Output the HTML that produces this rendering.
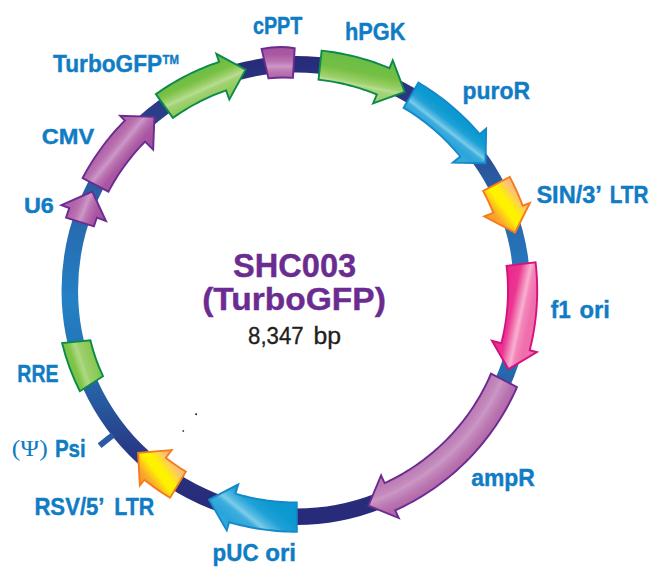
<!DOCTYPE html>
<html><head><meta charset="utf-8"><title>SHC003 (TurboGFP)</title>
<style>
html,body{margin:0;padding:0;background:#fff;}
body{width:659px;height:579px;overflow:hidden;font-family:"Liberation Sans",sans-serif;}
svg{display:block;}
</style></head><body>
<svg width="659" height="579" viewBox="0 0 659 579">
<defs>
<linearGradient id="g_hPGK" gradientUnits="userSpaceOnUse" x1="365.5" y1="62.7" x2="359.7" y2="92.1"><stop offset="0.00" stop-color="#6dbd45"/><stop offset="0.34" stop-color="#74bf44"/><stop offset="0.54" stop-color="#8cc957"/><stop offset="0.70" stop-color="#a0d272"/><stop offset="0.78" stop-color="#b7dd93"/><stop offset="0.85" stop-color="#a5d47a"/><stop offset="1.00" stop-color="#9fd170"/></linearGradient>
<linearGradient id="g_puroR" gradientUnits="userSpaceOnUse" x1="486.3" y1="127.9" x2="461.7" y2="159.4"><stop offset="0.00" stop-color="#0b95cf"/><stop offset="0.30" stop-color="#0c9ad1"/><stop offset="0.46" stop-color="#1fa1d6"/><stop offset="0.58" stop-color="#55bae2"/><stop offset="0.64" stop-color="#7ecbea"/><stop offset="0.71" stop-color="#3badde"/><stop offset="0.85" stop-color="#2aa5d9"/><stop offset="1.00" stop-color="#34aadc"/></linearGradient>
<linearGradient id="g_SIN" gradientUnits="userSpaceOnUse" x1="486.4" y1="223.9" x2="527.4" y2="191.8"><stop offset="0.00" stop-color="#f7941d"/><stop offset="0.25" stop-color="#f9a72e"/><stop offset="0.45" stop-color="#fff200"/><stop offset="0.58" stop-color="#fff200"/><stop offset="0.80" stop-color="#fcc173"/><stop offset="1.00" stop-color="#fab682"/></linearGradient>
<linearGradient id="g_f1" gradientUnits="userSpaceOnUse" x1="501.6" y1="306.4" x2="531.0" y2="312.6"><stop offset="0.00" stop-color="#ea2a8b"/><stop offset="0.34" stop-color="#ec3592"/><stop offset="0.50" stop-color="#f072ae"/><stop offset="0.62" stop-color="#f59fc7"/><stop offset="0.68" stop-color="#f8b0d1"/><stop offset="0.78" stop-color="#f388ba"/><stop offset="1.00" stop-color="#f06eac"/></linearGradient>
<radialGradient id="g_ampR" gradientUnits="userSpaceOnUse" cx="296.0" cy="290.5" r="241.2"><stop offset="0.8789" stop-color="#bb79b2"/><stop offset="0.9177" stop-color="#c48bbe"/><stop offset="0.9298" stop-color="#cb98c5"/><stop offset="0.9419" stop-color="#c48bbe"/><stop offset="0.9697" stop-color="#ba76b0"/><stop offset="1.0000" stop-color="#b266a9"/></radialGradient>
<linearGradient id="g_pUC" gradientUnits="userSpaceOnUse" x1="296.8" y1="500.9" x2="255.3" y2="552.2"><stop offset="0.00" stop-color="#0b95cf"/><stop offset="0.30" stop-color="#0c9ad1"/><stop offset="0.46" stop-color="#1fa1d6"/><stop offset="0.58" stop-color="#55bae2"/><stop offset="0.64" stop-color="#7ecbea"/><stop offset="0.71" stop-color="#3badde"/><stop offset="0.85" stop-color="#2aa5d9"/><stop offset="1.00" stop-color="#34aadc"/></linearGradient>
<linearGradient id="g_RSV" gradientUnits="userSpaceOnUse" x1="136.8" y1="485.6" x2="177.8" y2="453.6"><stop offset="0.00" stop-color="#f7941d"/><stop offset="0.25" stop-color="#f9a72e"/><stop offset="0.45" stop-color="#fff200"/><stop offset="0.58" stop-color="#fff200"/><stop offset="0.80" stop-color="#fcc173"/><stop offset="1.00" stop-color="#fab682"/></linearGradient>
<linearGradient id="g_U6" gradientUnits="userSpaceOnUse" x1="102.3" y1="213.2" x2="74.5" y2="202.1"><stop offset="0.00" stop-color="#a7529e"/><stop offset="0.22" stop-color="#ab58a2"/><stop offset="0.45" stop-color="#ba74b1"/><stop offset="0.56" stop-color="#c68cc0"/><stop offset="0.61" stop-color="#cc99c7"/><stop offset="0.68" stop-color="#c588be"/><stop offset="0.82" stop-color="#b971af"/><stop offset="1.00" stop-color="#b164a8"/></linearGradient>
<linearGradient id="g_CMV" gradientUnits="userSpaceOnUse" x1="134.7" y1="158.4" x2="111.4" y2="139.4"><stop offset="0.00" stop-color="#a7529e"/><stop offset="0.22" stop-color="#ab58a2"/><stop offset="0.45" stop-color="#ba74b1"/><stop offset="0.56" stop-color="#c68cc0"/><stop offset="0.61" stop-color="#cc99c7"/><stop offset="0.68" stop-color="#c588be"/><stop offset="0.82" stop-color="#b971af"/><stop offset="1.00" stop-color="#b164a8"/></linearGradient>
<linearGradient id="g_Turbo" gradientUnits="userSpaceOnUse" x1="197.1" y1="70.2" x2="209.4" y2="97.5"><stop offset="0.00" stop-color="#6dbd45"/><stop offset="0.30" stop-color="#76c044"/><stop offset="0.48" stop-color="#93cc5f"/><stop offset="0.60" stop-color="#a8d67d"/><stop offset="0.67" stop-color="#b7dd93"/><stop offset="0.75" stop-color="#a2d375"/><stop offset="1.00" stop-color="#92cb5d"/></linearGradient>
<linearGradient id="g_cPPT" gradientUnits="userSpaceOnUse" x1="278.5" y1="47.5" x2="278.5" y2="78.5"><stop offset="0.00" stop-color="#a7529e"/><stop offset="0.22" stop-color="#ab58a2"/><stop offset="0.45" stop-color="#ba74b1"/><stop offset="0.56" stop-color="#c68cc0"/><stop offset="0.61" stop-color="#cc99c7"/><stop offset="0.68" stop-color="#c588be"/><stop offset="0.82" stop-color="#b971af"/><stop offset="1.00" stop-color="#b164a8"/></linearGradient>
<linearGradient id="g_RRE" gradientUnits="userSpaceOnUse" x1="66.8" y1="368.1" x2="95.2" y2="358.5"><stop offset="0.00" stop-color="#79c143"/><stop offset="0.28" stop-color="#80c446"/><stop offset="0.45" stop-color="#a3d477"/><stop offset="0.52" stop-color="#add984"/><stop offset="0.62" stop-color="#9dd06c"/><stop offset="1.00" stop-color="#88c74f"/></linearGradient>
<linearGradient id="ring" gradientUnits="userSpaceOnUse" x1="0" y1="56" x2="0" y2="525"><stop offset="0" stop-color="#272a78"/><stop offset="0.10" stop-color="#2b3a84"/><stop offset="0.28" stop-color="#2a5ea3"/><stop offset="0.40" stop-color="#2670b5"/><stop offset="0.52" stop-color="#2480c4"/><stop offset="0.62" stop-color="#2476ba"/><stop offset="0.74" stop-color="#27599f"/><stop offset="0.83" stop-color="#283d87"/><stop offset="0.90" stop-color="#282f7d"/><stop offset="1" stop-color="#272a78"/></linearGradient>
</defs>
<rect width="659" height="579" fill="#ffffff"/>
<circle cx="296.0" cy="290.5" r="226.2" fill="none" stroke="url(#ring)" stroke-width="16.5"/>
<line x1="113.1" y1="434.9" x2="99.6" y2="445.6" stroke="#2a5aa0" stroke-width="6"/>
<path d="M62.1 343.0 Q68.2 368.1 79.9 391.2 L103.0 376.2 Q94.8 358.9 90.4 340.3 Z" fill="url(#g_RRE)" stroke="#0b8a4b" stroke-width="1.9" stroke-linejoin="miter"/>
<path d="M261.6 49.0 Q278.3 45.6 294.7 48.2 L292.9 77.9 Q281 76.9 268.5 78.4 Z" fill="url(#g_cPPT)" stroke="#6a2c91" stroke-width="1.9" stroke-linejoin="miter"/>
<path d="M321.63 50.67 L325.74 51.14 L329.84 51.69 L333.93 52.30 L338.01 52.99 L342.07 53.74 L346.12 54.57 L350.16 55.46 L354.18 56.42 L358.19 57.45 L362.17 58.56 L366.14 59.72 L370.09 60.96 L374.01 62.26 L377.91 63.64 L381.79 65.07 L385.64 66.58 L389.47 68.15 L392.76 60.31 L404.77 91.83 L373.09 103.46 L376.79 94.50 L373.50 93.17 L370.18 91.90 L366.85 90.69 L363.50 89.53 L360.12 88.43 L356.73 87.39 L353.33 86.40 L349.90 85.47 L346.46 84.59 L343.01 83.78 L339.54 83.02 L336.07 82.32 L332.58 81.68 L329.08 81.10 L325.57 80.57 L322.05 80.11 L318.53 79.70 Z" fill="url(#g_hPGK)" stroke="#0b8a4b" stroke-width="1.9" stroke-linejoin="miter"/>
<path d="M418.42 82.68 L421.87 84.74 L425.28 86.87 L428.65 89.05 L431.99 91.29 L435.29 93.59 L438.56 95.94 L441.78 98.34 L444.96 100.80 L448.10 103.30 L451.20 105.87 L454.26 108.48 L457.27 111.14 L460.24 113.85 L463.16 116.62 L466.03 119.43 L468.86 122.28 L471.64 125.19 L474.37 128.14 L477.05 131.13 L479.68 134.17 L486.16 128.66 L485.49 163.17 L452.77 162.64 L460.29 156.51 L458.00 153.76 L455.67 151.04 L453.30 148.37 L450.88 145.74 L448.41 143.14 L445.91 140.59 L443.36 138.09 L440.76 135.62 L438.13 133.20 L435.46 130.83 L432.74 128.50 L429.99 126.21 L427.20 123.97 L424.37 121.78 L421.51 119.64 L418.61 117.55 L415.67 115.51 L412.70 113.51 L409.70 111.57 L406.66 109.68 L403.60 107.83 Z" fill="url(#g_puroR)" stroke="#1488c9" stroke-width="1.9" stroke-linejoin="miter"/>
<path d="M509.67 176.89 L511.50 180.40 L513.28 183.94 L514.99 187.51 L516.65 191.11 L518.24 194.73 L519.78 198.38 L521.26 202.05 L522.67 205.75 L529.89 203.05 L514.99 232.64 L484.22 216.36 L493.25 212.80 L491.96 209.62 L490.63 206.45 L489.24 203.31 L487.80 200.19 L486.31 197.09 L484.77 194.02 L483.18 190.97 Z" fill="url(#g_SIN)" stroke="#f47b20" stroke-width="1.9" stroke-linejoin="miter"/>
<path d="M535.55 262.36 L535.99 266.36 L536.36 270.37 L536.66 274.39 L536.90 278.41 L537.07 282.44 L537.17 286.46 L537.20 290.49 L537.17 294.52 L537.07 298.54 L536.90 302.57 L536.66 306.59 L536.36 310.61 L535.99 314.62 L535.55 318.62 L535.05 322.62 L534.48 326.61 L533.85 330.58 L533.14 334.55 L532.37 338.50 L531.54 342.44 L530.64 346.37 L529.67 350.28 L536.84 352.11 L508.43 369.08 L491.94 340.81 L501.34 343.22 L502.19 339.78 L502.99 336.32 L503.73 332.85 L504.41 329.37 L505.03 325.87 L505.59 322.37 L506.10 318.86 L506.54 315.33 L506.93 311.81 L507.25 308.27 L507.52 304.73 L507.73 301.19 L507.88 297.65 L507.97 294.10 L508.00 290.55 L507.97 287.00 L507.88 283.45 L507.74 279.91 L507.53 276.37 L507.26 272.83 L506.94 269.29 L506.55 265.77 Z" fill="url(#g_f1)" stroke="#d4127f" stroke-width="1.9" stroke-linejoin="miter"/>
<path d="M517.03 387.06 L515.34 390.83 L513.60 394.56 L511.79 398.26 L509.92 401.93 L507.98 405.57 L505.98 409.18 L503.92 412.75 L501.81 416.28 L499.63 419.78 L497.39 423.24 L495.09 426.67 L492.73 430.05 L490.32 433.39 L487.85 436.69 L485.32 439.94 L482.74 443.16 L480.11 446.33 L477.42 449.45 L474.68 452.53 L471.88 455.56 L469.03 458.54 L466.14 461.47 L463.19 464.35 L460.20 467.18 L457.15 469.96 L454.06 472.69 L450.93 475.36 L447.75 477.98 L444.52 480.55 L441.25 483.06 L437.94 485.51 L434.59 487.91 L431.19 490.25 L427.76 492.53 L424.29 494.75 L420.78 496.92 L417.24 499.02 L413.65 501.06 L410.04 503.04 L406.39 504.96 L402.71 506.81 L399.00 508.60 L395.26 510.33 L398.76 518.08 L368.40 505.64 L381.08 475.47 L384.59 483.10 L387.87 481.56 L391.13 479.96 L394.36 478.30 L397.57 476.59 L400.74 474.82 L403.88 473.00 L406.99 471.12 L410.07 469.20 L413.11 467.22 L416.12 465.19 L419.10 463.10 L422.03 460.97 L424.93 458.79 L427.80 456.55 L430.62 454.27 L433.41 451.94 L436.15 449.56 L438.86 447.14 L441.52 444.67 L444.14 442.15 L446.71 439.60 L449.25 436.99 L451.73 434.35 L454.17 431.66 L456.57 428.93 L458.91 426.16 L461.21 423.35 L463.47 420.50 L465.67 417.61 L467.82 414.69 L469.92 411.72 L471.97 408.73 L473.97 405.70 L475.92 402.63 L477.81 399.53 L479.65 396.40 L481.44 393.24 L483.17 390.05 L484.85 386.83 L486.47 383.58 L488.04 380.31 L489.55 377.00 L491.00 373.68 Z" fill="url(#g_ampR)" stroke="#6a2c91" stroke-width="1.9" stroke-linejoin="miter"/>
<path d="M296.84 531.70 L292.81 531.68 L288.77 531.59 L284.74 531.44 L280.71 531.21 L276.68 530.93 L272.66 530.57 L268.65 530.14 L264.64 529.65 L260.64 529.09 L256.65 528.47 L252.68 527.78 L248.71 527.02 L244.76 526.19 L240.83 525.30 L236.90 524.35 L233.00 523.33 L229.11 522.24 L226.75 530.41 L208.96 499.61 L238.21 484.37 L235.43 493.66 L238.95 494.68 L242.48 495.63 L246.02 496.52 L249.58 497.36 L253.16 498.13 L256.75 498.83 L260.34 499.48 L263.95 500.06 L267.57 500.59 L271.20 501.04 L274.84 501.44 L278.48 501.77 L282.12 502.05 L285.77 502.25 L289.43 502.40 L293.08 502.48 L296.74 502.50 Z" fill="url(#g_pUC)" stroke="#1488c9" stroke-width="1.9" stroke-linejoin="miter"/>
<path d="M170.02 497.71 L166.69 495.65 L163.39 493.53 L160.13 491.36 L156.91 489.14 L153.72 486.87 L150.57 484.55 L147.45 482.18 L144.38 479.75 L139.88 485.37 L138.09 452.88 L171.73 450.13 L165.77 457.79 L168.54 459.91 L171.35 461.98 L174.19 464.01 L177.06 465.99 L179.96 467.92 L182.90 469.81 L185.86 471.65 Z" fill="url(#g_RSV)" stroke="#f47b20" stroke-width="1.9" stroke-linejoin="miter"/>
<path d="M66.09 217.57 L67.13 214.37 L68.22 211.18 L69.35 208.00 L61.36 205.10 L92.25 191.56 L106.02 220.98 L96.91 217.64 L95.87 220.55 L94.88 223.47 L93.92 226.40 Z" fill="url(#g_U6)" stroke="#6a2c91" stroke-width="1.9" stroke-linejoin="miter"/>
<path d="M82.64 178.01 L84.52 174.51 L86.46 171.04 L88.46 167.60 L90.51 164.19 L92.62 160.82 L94.79 157.49 L97.01 154.19 L99.28 150.93 L101.61 147.71 L103.99 144.52 L106.42 141.38 L108.91 138.27 L111.44 135.21 L114.03 132.19 L116.66 129.21 L119.34 126.28 L122.07 123.39 L124.85 120.54 L120.17 115.89 L154.43 116.91 L153.17 149.65 L145.05 141.64 L142.51 144.27 L140.01 146.94 L137.55 149.65 L135.15 152.40 L132.79 155.20 L130.48 158.03 L128.22 160.91 L126.01 163.82 L123.85 166.77 L121.74 169.76 L119.69 172.78 L117.68 175.84 L115.73 178.93 L113.83 182.06 L111.99 185.22 L110.20 188.41 L108.47 191.63 Z" fill="url(#g_CMV)" stroke="#6a2c91" stroke-width="1.9" stroke-linejoin="miter"/>
<path d="M155.93 94.14 L159.36 91.73 L162.83 89.39 L166.34 87.11 L169.89 84.89 L173.48 82.74 L177.10 80.64 L180.76 78.61 L184.45 76.64 L188.18 74.74 L191.94 72.90 L195.73 71.13 L199.55 69.42 L203.40 67.78 L207.28 66.21 L211.18 64.71 L215.11 63.27 L219.07 61.90 L216.36 53.84 L245.63 69.67 L229.30 99.51 L226.11 90.35 L222.78 91.55 L219.47 92.80 L216.18 94.10 L212.91 95.46 L209.67 96.87 L206.45 98.34 L203.26 99.86 L200.09 101.43 L196.95 103.06 L193.84 104.74 L190.75 106.47 L187.70 108.25 L184.67 110.08 L181.68 111.96 L178.72 113.90 L175.79 115.88 L172.89 117.91 Z" fill="url(#g_Turbo)" stroke="#0b8a4b" stroke-width="1.9" stroke-linejoin="miter"/>
<circle cx="196.1" cy="414.2" r="1.0" fill="#222"/>
<circle cx="183.3" cy="431" r="0.9" fill="#444"/>
<text x="252.9" y="33.6" textLength="49.5" lengthAdjust="spacingAndGlyphs" font-family="'Liberation Sans', sans-serif" font-size="23.4" font-weight="bold" fill="#0f7cc4" stroke="#0f7cc4" stroke-width="0.4">cPPT</text>
<text x="345.0" y="39.5" textLength="60.4" lengthAdjust="spacingAndGlyphs" font-family="'Liberation Sans', sans-serif" font-size="23.4" font-weight="bold" fill="#0f7cc4" stroke="#0f7cc4" stroke-width="0.4">hPGK</text>
<text x="462.6" y="98.7" textLength="67.4" lengthAdjust="spacingAndGlyphs" font-family="'Liberation Sans', sans-serif" font-size="23.2" font-weight="bold" fill="#0f7cc4" stroke="#0f7cc4" stroke-width="0.4">puroR</text>
<text x="536.4" y="203.3" textLength="65.5" lengthAdjust="spacingAndGlyphs" font-family="'Liberation Sans', sans-serif" font-size="23.2" font-weight="bold" fill="#0f7cc4" stroke="#0f7cc4" stroke-width="0.4">SIN/3&#8217;</text>
<text x="609.8" y="203.3" textLength="38.6" lengthAdjust="spacingAndGlyphs" font-family="'Liberation Sans', sans-serif" font-size="23.2" font-weight="bold" fill="#0f7cc4" stroke="#0f7cc4" stroke-width="0.4">LTR</text>
<text x="550.7" y="318.0" textLength="19.9" lengthAdjust="spacingAndGlyphs" font-family="'Liberation Sans', sans-serif" font-size="23.3" font-weight="bold" fill="#0f7cc4" stroke="#0f7cc4" stroke-width="0.4">f1</text>
<text x="579.5" y="318.0" textLength="30.3" lengthAdjust="spacingAndGlyphs" font-family="'Liberation Sans', sans-serif" font-size="23.3" font-weight="bold" fill="#0f7cc4" stroke="#0f7cc4" stroke-width="0.4">ori</text>
<text x="471.2" y="485.6" textLength="63.6" lengthAdjust="spacingAndGlyphs" font-family="'Liberation Sans', sans-serif" font-size="23.5" font-weight="bold" fill="#0f7cc4" stroke="#0f7cc4" stroke-width="0.4">ampR</text>
<text x="212.6" y="560.6" textLength="46.0" lengthAdjust="spacingAndGlyphs" font-family="'Liberation Sans', sans-serif" font-size="23.5" font-weight="bold" fill="#0f7cc4" stroke="#0f7cc4" stroke-width="0.4">pUC</text>
<text x="265.2" y="560.6" textLength="30.8" lengthAdjust="spacingAndGlyphs" font-family="'Liberation Sans', sans-serif" font-size="23.5" font-weight="bold" fill="#0f7cc4" stroke="#0f7cc4" stroke-width="0.4">ori</text>
<text x="34.4" y="514.7" textLength="70.1" lengthAdjust="spacingAndGlyphs" font-family="'Liberation Sans', sans-serif" font-size="23.5" font-weight="bold" fill="#0f7cc4" stroke="#0f7cc4" stroke-width="0.4">RSV/5&#8217;</text>
<text x="114.2" y="514.7" textLength="40.0" lengthAdjust="spacingAndGlyphs" font-family="'Liberation Sans', sans-serif" font-size="23.5" font-weight="bold" fill="#0f7cc4" stroke="#0f7cc4" stroke-width="0.4">LTR</text>
<text x="54.9" y="456.7" textLength="30.8" lengthAdjust="spacingAndGlyphs" font-family="'Liberation Sans', sans-serif" font-size="23.5" font-weight="bold" fill="#0f7cc4" stroke="#0f7cc4" stroke-width="0.4">Psi</text>
<text x="11.8" y="456.3" textLength="36.0" lengthAdjust="spacingAndGlyphs" font-family="'Liberation Serif', sans-serif" font-size="23.5" font-weight="normal" fill="#0f7cc4" >(&#936;)</text>
<text x="17.3" y="381.7" textLength="41.2" lengthAdjust="spacingAndGlyphs" font-family="'Liberation Sans', sans-serif" font-size="23.5" font-weight="bold" fill="#0f7cc4" stroke="#0f7cc4" stroke-width="0.4">RRE</text>
<text x="23.9" y="212.8" textLength="29.9" lengthAdjust="spacingAndGlyphs" font-family="'Liberation Sans', sans-serif" font-size="21.4" font-weight="bold" fill="#0f7cc4" stroke="#0f7cc4" stroke-width="0.4">U6</text>
<text x="41.8" y="144.2" textLength="52.5" lengthAdjust="spacingAndGlyphs" font-family="'Liberation Sans', sans-serif" font-size="21.4" font-weight="bold" fill="#0f7cc4" stroke="#0f7cc4" stroke-width="0.4">CMV</text>
<text x="53.1" y="71.5" textLength="109.0" lengthAdjust="spacingAndGlyphs" font-family="'Liberation Sans', sans-serif" font-size="23.2" font-weight="bold" fill="#0f7cc4" stroke="#0f7cc4" stroke-width="0.4">TurboGFP</text>
<text x="162.6" y="64.0" textLength="16.4" lengthAdjust="spacingAndGlyphs" font-family="'Liberation Sans', sans-serif" font-size="13.5" font-weight="bold" fill="#0f7cc4" stroke="#0f7cc4" stroke-width="0.4">TM</text>
<text x="233.1" y="276.5" textLength="123.0" lengthAdjust="spacingAndGlyphs" font-family="'Liberation Sans', sans-serif" font-size="32.3" font-weight="bold" fill="#6b2c91" stroke="#6b2c91" stroke-width="0.4">SHC003</text>
<text x="202.2" y="310.2" textLength="183.6" lengthAdjust="spacingAndGlyphs" font-family="'Liberation Sans', sans-serif" font-size="32.0" font-weight="bold" fill="#6b2c91" stroke="#6b2c91" stroke-width="0.4">(TurboGFP)</text>
<text x="248.1" y="343.8" textLength="55.6" lengthAdjust="spacingAndGlyphs" font-family="'Liberation Sans', sans-serif" font-size="24.4" font-weight="normal" fill="#231f20" stroke="#231f20" stroke-width="0.35">8,347</text>
<text x="313.4" y="343.8" textLength="27.6" lengthAdjust="spacingAndGlyphs" font-family="'Liberation Sans', sans-serif" font-size="24.4" font-weight="normal" fill="#231f20" stroke="#231f20" stroke-width="0.35">bp</text>
</svg>
</body></html>
